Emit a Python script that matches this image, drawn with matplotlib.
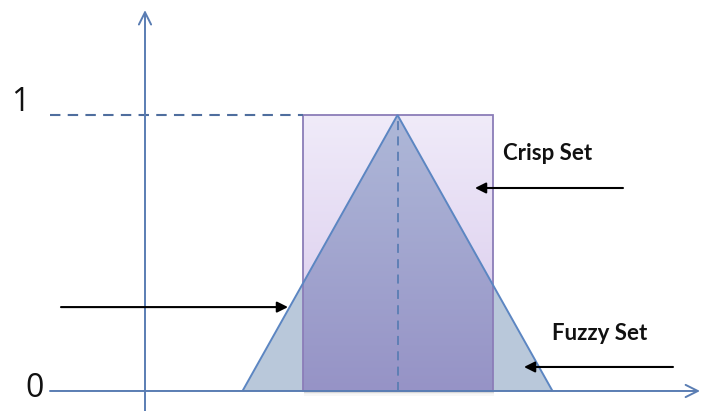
import numpy as np
import matplotlib
matplotlib.use("Agg")
import matplotlib.pyplot as plt
from matplotlib.patches import Polygon, Rectangle
from matplotlib.colors import LinearSegmentedColormap

# ---- data ----
crisp_set = [6.3, 13.9]            # crisp interval [a, b], membership 1
fuzzy_set = [3.9, 10.1, 16.3]      # triangular fuzzy number (left, peak, right)
membership_levels = [0, 1]
level_labels = ["0", "1"]
set_labels = ["Crisp Set", "Fuzzy Set"]

# ---- figure ----
fig = plt.figure(figsize=(7.01, 4.11), dpi=100)
ax = fig.add_axes([0, 0, 1, 1])
ax.set_xlim(-5.8, 22.24)
ax.set_ylim(-0.0725, 1.4167)
ax.axis("off")

axis_col = "#5A7DB3"
rect_edge = "#8B7DB8"
tri_edge = "#5C86C2"

lo, hi = membership_levels
x0, x1 = crisp_set
a, m, b = fuzzy_set

# crisp set rectangle with gradient
rect = Rectangle((x0, lo), x1 - x0, hi - lo, facecolor="none", edgecolor="none")
ax.add_patch(rect)
cmap_rect = LinearSegmentedColormap.from_list("r", ["#D6C6EB", "#F0EBF9"])
grad = np.linspace(0, 1, 256).reshape(-1, 1)
im = ax.imshow(grad, cmap=cmap_rect, origin="lower", aspect="auto",
               extent=(x0, x1, lo, hi), zorder=1)
im.set_clip_path(rect)

# fuzzy triangle
tri = Polygon([[a, lo], [m, hi], [b, lo]], closed=True,
              facecolor="#B9C8DA", edgecolor="none", zorder=2)
ax.add_patch(tri)
# overlap gradient (triangle inside rectangle)
cmap_ov = LinearSegmentedColormap.from_list("o", ["#9693C6", "#AEB8D8"])
im2 = ax.imshow(grad, cmap=cmap_ov, origin="lower", aspect="auto",
                extent=(x0, x1, lo, hi), zorder=3)
im2.set_clip_path(tri)

# soft shadow under rectangle
for k, al in enumerate([0.22, 0.14, 0.07]):
    ax.plot([x0 + 0.05, x1 + 0.05], [lo - 0.005 - 0.004 * k] * 2, color="#777777",
            lw=1.2, alpha=al, zorder=3.5, solid_capstyle="butt")

# outlines
ax.add_patch(Rectangle((x0, lo), x1 - x0, hi - lo, facecolor="none",
                       edgecolor=rect_edge, lw=1.3, zorder=4))
ax.add_patch(Polygon([[a, lo], [m, hi], [b, lo]], closed=False,
                     facecolor="none", edgecolor=tri_edge, lw=1.4, zorder=5))

# dashed guides
ax.plot([-3.8, x0], [hi, hi], color="#4F6E9E", lw=1.5, ls=(0, (5, 3.5)), zorder=4)
ax.plot([m, m], [lo, hi], color="#5A7DB3", lw=1.3, ls=(0, (5, 3.5)), zorder=6)

# axes with open arrowheads
ax.annotate("", xy=(0, 1.38), xytext=(0, -0.0725),
            arrowprops=dict(arrowstyle="->", color=axis_col, lw=1.4,
                            mutation_scale=22, shrinkA=0, shrinkB=0), zorder=7)
ax.annotate("", xy=(22.2, lo), xytext=(-3.8, lo),
            arrowprops=dict(arrowstyle="->", color=axis_col, lw=1.4,
                            mutation_scale=22, shrinkA=0, shrinkB=0), zorder=7)

# level labels
ax.text(-4.98, 1.0145, level_labels[1], fontsize=23, family="Open Sans",
        ha="center", va="baseline", color="#111111")
ax.text(-4.42, -0.0217, level_labels[0], fontsize=23, family="Open Sans",
        ha="center", va="baseline", color="#111111")

# set labels
ax.text(14.32, 0.837, set_labels[0], fontsize=16, family="Lato",
        fontweight="bold", ha="left", va="baseline", color="#111111")
ax.text(16.28, 0.185, set_labels[1], fontsize=16, family="Lato",
        fontweight="bold", ha="left", va="baseline", color="#111111")

# pointing arrows
arrow_kw = dict(arrowstyle="-|>", color="black", lw=1.5, mutation_scale=16,
                shrinkA=0, shrinkB=0)
ax.annotate("", xy=(5.72, 0.304), xytext=(-3.36, 0.304), arrowprops=arrow_kw, zorder=8)
ax.annotate("", xy=(13.2, 0.7355), xytext=(19.12, 0.7355), arrowprops=arrow_kw, zorder=8)
ax.annotate("", xy=(15.16, 0.087), xytext=(21.12, 0.087), arrowprops=arrow_kw, zorder=8)

fig.savefig("out.png", dpi=100)
